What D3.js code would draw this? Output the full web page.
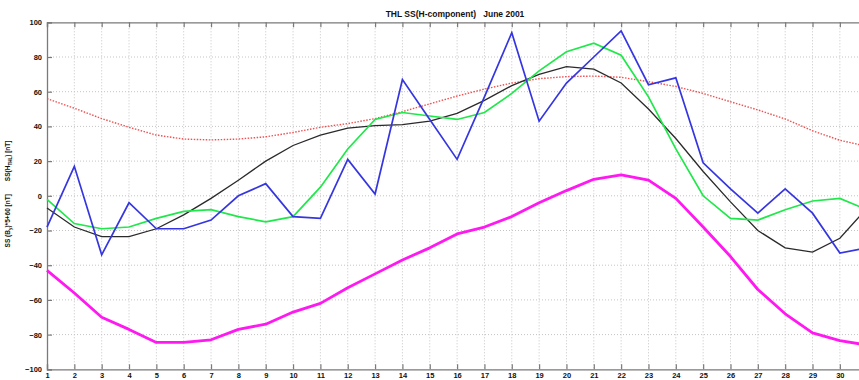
<!DOCTYPE html>
<html>
<head>
<meta charset="utf-8">
<script src="https://cdn.jsdelivr.net/npm/d3@7"></script>
<style>
  html, body { margin: 0; padding: 0; background: #fff; }
  svg { display: block; }
  text { font-family: "Liberation Sans", Arial, sans-serif; }
</style>
</head>
<body>
<svg id="chart" width="859" height="380"></svg>
<script>
// Days of June 2001 (axis runs to 31)
const days = d3.range(1, 32);
const dayTicks = d3.range(1, 31);
const valueTicks = [-100, -80, -60, -40, -20, 0, 20, 40, 60, 80, 100];

// SS(H) at THL, blue
const ssBlue = [-18, 17, -34, -4, -19, -19, -14, 0, 7, -12, -13, 21, 1, 67, 44, 21, 57, 94, 43, 65, 80, 95, 64, 68, 19, 4, -10, 4, -10, -33, -30];
// green curve
const ssGreen = [-2, -16, -19, -18, -13, -9, -8, -12, -15, -12, 5, 27, 44, 48, 46, 44, 48, 59, 72, 83, 88, 81, 57, 27, 0, -13, -14, -8, -3, -1.5, -8];
// black curve
const ssBlack = [-7, -18, -23.5, -23.5, -19, -11, -1.5, 9, 20, 29, 35, 39, 40.5, 41, 43, 47.5, 55, 63.5, 70, 74.5, 73, 65, 50, 33, 14, -3.5, -20, -30, -32.5, -24.5, -7];
// red dotted curve
const ssRed = [56, 50.5, 44.5, 39.5, 35, 32.7, 32.2, 32.7, 34, 36.5, 39.5, 41.6, 44.5, 48.5, 53, 57.5, 61.5, 65, 67.5, 68.7, 69, 68.3, 65.8, 63, 59, 54.2, 49.5, 44.3, 37.5, 32, 28.5];
// SS(By)*5+60, magenta
const ssMagenta = [-43, -56, -70, -77, -84.5, -84.5, -83, -77, -74, -67, -62, -53, -45, -37, -30, -22, -18, -12, -4, 3, 9.5, 12, 9, -1.5, -18, -35, -54, -68, -79, -83.5, -86];

const svg = d3.select("#chart");
const W = 859, H = 380;
const plotLeft = 47, plotTop = 22.3, plotBottom = 369.3;
const dayStep = 27.34;

const x = d3.scaleLinear().domain([1, 31]).range([plotLeft, plotLeft + 30 * dayStep]);
const y = d3.scaleLinear().domain([-100, 100]).range([plotBottom, plotTop]);

svg.append("rect").attr("width", W).attr("height", H).attr("fill", "#fff");

// dotted grid
const grid = svg.append("g").attr("stroke", "#c4c4c4").attr("stroke-width", 1)
  .attr("stroke-dasharray", "1,2");
grid.selectAll("line.v").data(dayTicks.slice(1)).join("line")
  .attr("x1", d => x(d)).attr("x2", d => x(d))
  .attr("y1", plotTop).attr("y2", plotBottom);
grid.selectAll("line.h").data(valueTicks.slice(1, -1)).join("line")
  .attr("x1", plotLeft).attr("x2", W)
  .attr("y1", d => y(d)).attr("y2", d => y(d));

// axes: ticks point inward, MATLAB style
const axisColor = "#7a7a7a";
const gBottom = svg.append("g").attr("transform", `translate(0,${plotBottom})`)
  .call(d3.axisBottom(x).tickValues(dayTicks).tickFormat(d3.format("d")).tickSize(-5).tickPadding(4));
const gTop = svg.append("g").attr("transform", `translate(0,${plotTop})`)
  .call(d3.axisTop(x).tickValues(dayTicks).tickFormat("").tickSize(-5));
const gLeft = svg.append("g").attr("transform", `translate(${plotLeft},0)`)
  .call(d3.axisLeft(y).tickValues(valueTicks).tickFormat(d3.format("d")).tickSize(-5).tickPadding(5));

[gBottom, gTop, gLeft].forEach(g => {
  g.select(".domain").attr("stroke", axisColor).attr("stroke-width", 1.3);
  g.selectAll(".tick line").attr("stroke", axisColor).attr("stroke-width", 1.2);
  g.selectAll(".tick text").attr("fill", "#111").attr("font-size", 7.5).attr("font-weight", "bold");
});
gBottom.selectAll(".tick text").attr("dy", "0.6em");

// series
const line = d3.line().x((d, i) => x(days[i])).y(d => y(d));
const plot = svg.append("g");

plot.append("path").datum(ssRed).attr("d", line).attr("fill", "none")
  .attr("stroke", "#f05050").attr("stroke-width", 1.4).attr("stroke-dasharray", "1.5,1.5");
plot.append("path").datum(ssMagenta).attr("d", line).attr("fill", "none")
  .attr("stroke", "#ff18f0").attr("stroke-width", 2.8).attr("stroke-linejoin", "round");
plot.append("path").datum(ssBlack).attr("d", line).attr("fill", "none")
  .attr("stroke", "#2a2a2a").attr("stroke-width", 1.3);
plot.append("path").datum(ssGreen).attr("d", line).attr("fill", "none")
  .attr("stroke", "#1fe84a").attr("stroke-width", 1.7);
plot.append("path").datum(ssBlue).attr("d", line).attr("fill", "none")
  .attr("stroke", "#3636e0").attr("stroke-width", 1.7);

// title
svg.append("text").attr("x", 455).attr("y", 17).attr("text-anchor", "middle")
  .attr("font-size", 8.5).attr("font-weight", "bold").attr("fill", "#111")
  .attr("xml:space", "preserve")
  .text("THL SS(H-component)   June 2001");

// y label
const yl = svg.append("text").attr("transform", "translate(10,194) rotate(-90)")
  .attr("text-anchor", "middle").attr("font-size", 6.5).attr("font-weight", "bold").attr("fill", "#111");
yl.append("tspan").text("SS (B");
yl.append("tspan").attr("font-size", 4.5).attr("dy", 1.5).text("y");
yl.append("tspan").attr("dy", -1.5).text(")*5+60 [nT]\u2003\u2003SS(H");
yl.append("tspan").attr("font-size", 4.5).attr("dy", 1.5).text("THL");
yl.append("tspan").attr("dy", -1.5).text(") [nT]");

// x label, below the frame edge
svg.append("text").attr("x", 455).attr("y", 386).attr("text-anchor", "middle")
  .attr("font-size", 8).attr("font-weight", "bold").attr("fill", "#111")
  .text("Day of the month");
</script>
</body>
</html>
